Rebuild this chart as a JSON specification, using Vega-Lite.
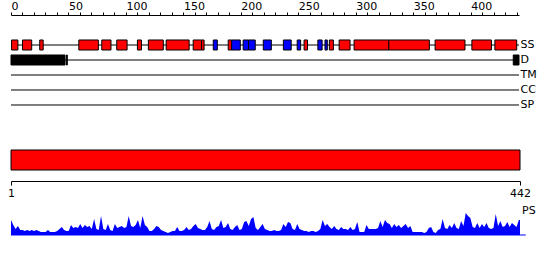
{
  "$schema": "https://vega.github.io/schema/vega-lite/v6.json",
  "padding": {"left": 7, "top": 0, "right": 5, "bottom": 5},
  "background": "white",
  "config": {
    "view": {"stroke": null},
    "font": "DejaVu Sans",
    "axis": {"labelFont": "DejaVu Sans", "labelFontSize": 11, "labelColor": "black", "domainColor": "black", "tickColor": "black", "grid": false, "domainWidth": 1, "tickWidth": 1}
  },
  "datasets": {
    "tracks": [
      {"track": "SS", "start": 0, "end": 442},
      {"track": "D", "start": 0, "end": 442},
      {"track": "TM", "start": 0, "end": 442},
      {"track": "CC", "start": 0, "end": 442},
      {"track": "SP", "start": 0, "end": 442}
    ],
    "features": [
      {"track": "SS", "type": "helix", "start": 0.5, "end": 6},
      {"track": "SS", "type": "helix", "start": 10, "end": 18},
      {"track": "SS", "type": "helix", "start": 25, "end": 28},
      {"track": "SS", "type": "helix", "start": 59, "end": 76},
      {"track": "SS", "type": "helix", "start": 79, "end": 87},
      {"track": "SS", "type": "helix", "start": 92, "end": 101},
      {"track": "SS", "type": "helix", "start": 110, "end": 113.5},
      {"track": "SS", "type": "helix", "start": 119.5, "end": 132.5},
      {"track": "SS", "type": "helix", "start": 135, "end": 155},
      {"track": "SS", "type": "helix", "start": 158.5, "end": 165.8},
      {"track": "SS", "type": "helix", "start": 165.8, "end": 168},
      {"track": "SS", "type": "strand", "start": 176, "end": 179.5},
      {"track": "SS", "type": "helix", "start": 189, "end": 192},
      {"track": "SS", "type": "strand", "start": 192, "end": 199.5},
      {"track": "SS", "type": "strand", "start": 202, "end": 206.7},
      {"track": "SS", "type": "strand", "start": 206.7, "end": 212.5},
      {"track": "SS", "type": "strand", "start": 219.5, "end": 226.5},
      {"track": "SS", "type": "strand", "start": 237, "end": 243.8},
      {"track": "SS", "type": "strand", "start": 249, "end": 252},
      {"track": "SS", "type": "helix", "start": 255, "end": 258},
      {"track": "SS", "type": "strand", "start": 267, "end": 270.7},
      {"track": "SS", "type": "strand", "start": 273.2, "end": 275.2},
      {"track": "SS", "type": "helix", "start": 277, "end": 280.5},
      {"track": "SS", "type": "helix", "start": 285.5, "end": 295},
      {"track": "SS", "type": "helix", "start": 298.5, "end": 328.7},
      {"track": "SS", "type": "helix", "start": 328.7, "end": 364},
      {"track": "SS", "type": "helix", "start": 369, "end": 395},
      {"track": "SS", "type": "helix", "start": 401, "end": 418},
      {"track": "SS", "type": "helix", "start": 421, "end": 440},
      {"track": "D", "type": "disorder", "start": 0, "end": 47},
      {"track": "D", "type": "disorder", "start": 48.2, "end": 49},
      {"track": "D", "type": "disorder", "start": 437, "end": 442}
    ],
    "seq": [{"start": 1, "end": 442}],
    "ps": [
      {"res":1,"score":15},{"res":3,"score":10},{"res":5,"score":6},{"res":7,"score":9},{"res":9,"score":5},{"res":11,"score":5},{"res":13,"score":4},{"res":15,"score":5},{"res":17,"score":4},{"res":19,"score":5},
      {"res":21,"score":4},{"res":23,"score":5},{"res":25,"score":4},{"res":27,"score":3},{"res":29,"score":3},{"res":31,"score":3},{"res":33,"score":5},{"res":35,"score":3},{"res":37,"score":3},{"res":39,"score":3},
      {"res":41,"score":4},{"res":43,"score":6},{"res":45,"score":8},{"res":47,"score":5},{"res":49,"score":4},{"res":51,"score":4},{"res":53,"score":10},{"res":55,"score":7},{"res":57,"score":8},{"res":59,"score":7},
      {"res":61,"score":11},{"res":63,"score":7},{"res":65,"score":10},{"res":67,"score":8},{"res":69,"score":9},{"res":71,"score":6},{"res":73,"score":16},{"res":75,"score":6},{"res":77,"score":5},{"res":79,"score":19},
      {"res":81,"score":6},{"res":83,"score":5},{"res":85,"score":11},{"res":87,"score":5},{"res":89,"score":4},{"res":91,"score":11},{"res":93,"score":7},{"res":95,"score":8},{"res":97,"score":9},{"res":99,"score":7},
      {"res":101,"score":8},{"res":103,"score":19},{"res":105,"score":9},{"res":107,"score":8},{"res":109,"score":10},{"res":111,"score":15},{"res":113,"score":7},{"res":115,"score":19},{"res":117,"score":10},{"res":119,"score":8},
      {"res":121,"score":4},{"res":123,"score":4},{"res":125,"score":6},{"res":127,"score":9},{"res":129,"score":8},{"res":131,"score":5},{"res":133,"score":4},{"res":135,"score":3},{"res":137,"score":2},{"res":139,"score":3},
      {"res":141,"score":4},{"res":143,"score":4},{"res":145,"score":8},{"res":147,"score":4},{"res":149,"score":4},{"res":151,"score":5},{"res":153,"score":8},{"res":155,"score":5},{"res":157,"score":6},{"res":159,"score":9},
      {"res":161,"score":11},{"res":163,"score":7},{"res":165,"score":6},{"res":167,"score":5},{"res":169,"score":5},{"res":171,"score":8},{"res":173,"score":14},{"res":175,"score":6},{"res":177,"score":5},{"res":179,"score":8},
      {"res":181,"score":9},{"res":183,"score":15},{"res":185,"score":7},{"res":187,"score":8},{"res":189,"score":12},{"res":191,"score":6},{"res":193,"score":5},{"res":195,"score":8},{"res":197,"score":10},{"res":199,"score":5},
      {"res":201,"score":6},{"res":203,"score":13},{"res":205,"score":14},{"res":207,"score":9},{"res":209,"score":16},{"res":211,"score":18},{"res":213,"score":7},{"res":215,"score":5},{"res":217,"score":8},{"res":219,"score":11},
      {"res":221,"score":6},{"res":223,"score":5},{"res":225,"score":4},{"res":227,"score":4},{"res":229,"score":5},{"res":231,"score":4},{"res":233,"score":4},{"res":235,"score":5},{"res":237,"score":11},{"res":239,"score":8},
      {"res":241,"score":13},{"res":243,"score":12},{"res":245,"score":6},{"res":247,"score":5},{"res":249,"score":11},{"res":251,"score":6},{"res":253,"score":5},{"res":255,"score":4},{"res":257,"score":4},{"res":259,"score":3},
      {"res":261,"score":4},{"res":263,"score":4},{"res":265,"score":3},{"res":267,"score":4},{"res":269,"score":6},{"res":271,"score":15},{"res":273,"score":9},{"res":275,"score":11},{"res":277,"score":8},{"res":279,"score":6},
      {"res":281,"score":9},{"res":283,"score":6},{"res":285,"score":5},{"res":287,"score":8},{"res":289,"score":6},{"res":291,"score":6},{"res":293,"score":5},{"res":295,"score":8},{"res":297,"score":5},{"res":299,"score":6},
      {"res":301,"score":13},{"res":303,"score":3},{"res":305,"score":3},{"res":307,"score":3},{"res":309,"score":10},{"res":311,"score":6},{"res":313,"score":6},{"res":315,"score":6},{"res":317,"score":6},{"res":319,"score":7},
      {"res":321,"score":14},{"res":323,"score":8},{"res":325,"score":15},{"res":327,"score":12},{"res":329,"score":11},{"res":331,"score":7},{"res":333,"score":11},{"res":335,"score":8},{"res":337,"score":10},{"res":339,"score":7},
      {"res":341,"score":9},{"res":343,"score":11},{"res":345,"score":7},{"res":347,"score":9},{"res":349,"score":3},{"res":351,"score":3},{"res":353,"score":3},{"res":355,"score":3},{"res":357,"score":3},{"res":359,"score":2},
      {"res":361,"score":3},{"res":363,"score":7},{"res":365,"score":8},{"res":367,"score":3},{"res":369,"score":2},{"res":371,"score":5},{"res":373,"score":6},{"res":375,"score":16},{"res":377,"score":7},{"res":379,"score":6},
      {"res":381,"score":10},{"res":383,"score":7},{"res":385,"score":12},{"res":387,"score":7},{"res":389,"score":6},{"res":391,"score":14},{"res":393,"score":9},{"res":395,"score":22},{"res":397,"score":19},{"res":399,"score":17},
      {"res":401,"score":8},{"res":403,"score":7},{"res":405,"score":12},{"res":407,"score":7},{"res":409,"score":11},{"res":411,"score":8},{"res":413,"score":12},{"res":415,"score":7},{"res":417,"score":6},{"res":419,"score":7},
      {"res":421,"score":21},{"res":423,"score":9},{"res":425,"score":14},{"res":427,"score":8},{"res":429,"score":9},{"res":431,"score":13},{"res":433,"score":8},{"res":435,"score":12},{"res":437,"score":10},{"res":439,"score":8},
      {"res":441,"score":15},{"res":442,"score":15}
    ]
  },
  "spacing": 25,
  "bounds": "flush",
  "vconcat": [
    {
      "width": 508,
      "height": 100,
      "encoding": {
        "x": {
          "field": "start", "type": "quantitative",
          "scale": {"domain": [0, 442], "nice": false, "zero": false},
          "axis": {
            "orient": "top", "title": null, "offset": 10,
            "values": [0,10,20,30,40,50,60,70,80,90,100,110,120,130,140,150,160,170,180,190,200,210,220,230,240,250,260,270,280,290,300,310,320,330,340,350,360,370,380,390,400,410,420,430,440],
            "labelExpr": "datum.value % 50 === 0 ? datum.label : ''",
            "tickSize": 3, "labelAlign": "left", "labelFlush": false, "labelOverlap": false, "labelPadding": 1
          }
        },
        "x2": {"field": "end"},
        "y": {
          "field": "track", "type": "nominal",
          "scale": {"type": "band", "domain": ["SS", "D", "TM", "CC", "SP"], "paddingInner": 0.33333, "paddingOuter": 1},
          "axis": {"orient": "right", "title": null, "ticks": false, "domain": false, "labelPadding": 1, "labelFontSize": 11, "labelBaseline": "middle"}
        }
      },
      "layer": [
        {
          "data": {"name": "tracks"},
          "mark": {"type": "rule", "color": "black", "strokeWidth": 1},
          "encoding": {}
        },
        {
          "data": {"name": "features"},
          "mark": {"type": "rect", "stroke": "black", "strokeWidth": 1},
          "encoding": {
            "color": {"field": "type", "type": "nominal", "scale": {"domain": ["helix", "strand", "disorder"], "range": ["#ff0000", "#0000ff", "#000000"]}, "legend": null}
          }
        }
      ]
    },
    {
      "width": 509,
      "height": 20,
      "data": {"name": "seq"},
      "mark": {"type": "rect", "fill": "#ff0000", "stroke": "black", "strokeWidth": 1},
      "encoding": {
        "x": {
          "field": "start", "type": "quantitative",
          "scale": {"domain": [1, 442], "nice": false, "zero": false},
          "axis": {"orient": "bottom", "values": [1, 442], "offset": 11, "tickSize": 4, "title": null, "labelFlush": false, "labelPadding": 2}
        },
        "x2": {"field": "end"}
      }
    },
    {
      "width": 509,
      "height": 40,
      "layer": [
        {
          "data": {"name": "ps"},
          "mark": {"type": "area", "color": "#0000ff"},
          "encoding": {
            "x": {"field": "res", "type": "quantitative", "scale": {"domain": [1, 442], "nice": false, "zero": false}, "axis": null},
            "y": {"field": "score", "type": "quantitative", "scale": {"domain": [0, 40], "nice": false}, "axis": null}
          }
        },
        {
          "data": {"values": [{"from": 1, "to": 447}]},
          "mark": {"type": "rule", "color": "#0000ff", "strokeWidth": 1},
          "encoding": {
            "x": {"field": "from", "type": "quantitative"},
            "x2": {"field": "to"},
            "y": {"datum": 0}
          }
        },
        {
          "data": {"values": [{"label": "PS", "res": 442, "score": 24}]},
          "mark": {"type": "text", "align": "left", "baseline": "middle", "dx": 2, "fontSize": 11, "font": "DejaVu Sans", "color": "black"},
          "encoding": {
            "x": {"field": "res", "type": "quantitative"},
            "y": {"field": "score", "type": "quantitative"},
            "text": {"field": "label"}
          }
        }
      ]
    }
  ]
}
